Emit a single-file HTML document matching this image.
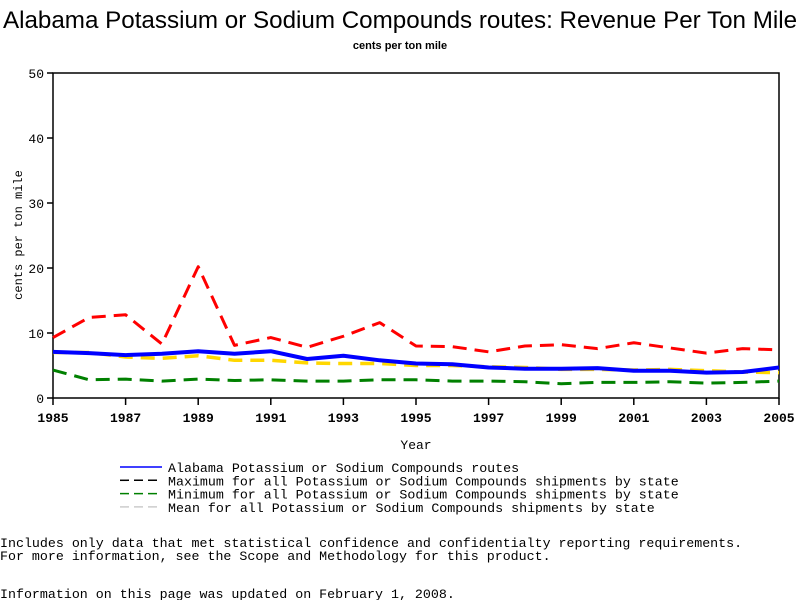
<!DOCTYPE html>
<html><head><meta charset="utf-8"><style>
body{margin:0;background:#fff;}
svg text{font-family:"Liberation Mono",monospace;}
</style></head><body>
<svg id="c" width="800" height="600" viewBox="0 0 800 600">
<text x="400" y="28" text-anchor="middle" font-size="24.2" style="font-family:'Liberation Sans',sans-serif">Alabama Potassium or Sodium Compounds routes: Revenue Per Ton Mile</text>
<text x="400" y="49" text-anchor="middle" font-size="11" font-weight="bold" style="font-family:'Liberation Sans',sans-serif">cents per ton mile</text>
<g id="axes"></g>
<g id="series"></g>
<text x="416" y="449" text-anchor="middle" font-size="13">Year</text>
<text transform="translate(22,235) rotate(-90)" text-anchor="middle" font-size="12">cents per ton mile</text>
<g id="legend" font-size="13.3"></g>
<text x="0" y="547" font-size="13.3">Includes only data that met statistical confidence and confidentialty reporting requirements.</text>
<text x="0" y="560" font-size="13.3">For more information, see the Scope and Methodology for this product.</text>
<text x="0" y="598" font-size="13.3">Information on this page was updated on February 1, 2008.</text>
</svg>
<script>
const years=[1985,1986,1987,1988,1989,1990,1991,1992,1993,1994,1995,1996,1997,1998,1999,2000,2001,2002,2003,2004,2005];
const alabama=[7.1,6.9,6.6,6.8,7.2,6.8,7.2,6.0,6.5,5.8,5.3,5.2,4.7,4.5,4.5,4.6,4.2,4.2,3.9,4.0,4.7];
const maxVals=[9.3,12.4,12.8,8.3,20.2,8.1,9.3,7.8,9.5,11.6,8.0,7.9,7.1,8.0,8.2,7.6,8.5,7.7,6.9,7.6,7.4];
const minVals=[4.3,2.8,2.9,2.6,2.9,2.7,2.8,2.6,2.6,2.8,2.8,2.6,2.6,2.5,2.2,2.4,2.4,2.5,2.3,2.4,2.6];
const meanVals=[7.0,7.0,6.3,6.1,6.5,5.8,5.8,5.4,5.3,5.3,5.0,5.0,4.8,4.7,4.4,4.4,4.3,4.4,4.2,4.0,3.9];
const yTicks=[0,10,20,30,40,50];
const xTicks=[1985,1987,1989,1991,1993,1995,1997,1999,2001,2003,2005];
const NS="http://www.w3.org/2000/svg";
const X0=53,X1=779,Y0=398,Y1=73;
const xs=v=>X0+(v-1985)/(2005-1985)*(X1-X0);
const ys=v=>Y0-v/50*(Y0-Y1);
function mk(t,a,p){const e=document.createElementNS(NS,t);for(const k in a)e.setAttribute(k,a[k]);p.appendChild(e);return e;}
const ax=document.getElementById('axes');
const frame=mk('rect',{x:X0,y:Y1,width:X1-X0,height:Y0-Y1,fill:'none',stroke:'#000','stroke-width':1.5},ax);


yTicks.forEach(v=>{
 const l=mk('line',{x1:X0-6,x2:X0,y1:ys(v),y2:ys(v),stroke:'#000','stroke-width':1.5},ax);
 
 
 const t=mk('text',{x:X0-9,y:ys(v)+5,'text-anchor':'end','font-size':13},ax);t.textContent=v;
 
 
});
xTicks.forEach(v=>{
 const l=mk('line',{x1:xs(v),x2:xs(v),y1:Y0,y2:Y0+7,stroke:'#000','stroke-width':1.5},ax);
 
 
 const t=mk('text',{x:xs(v),y:Y0+24,'text-anchor':'middle','font-size':13,'font-weight':'bold'},ax);t.textContent=v;
 
 
});
const sg=document.getElementById('series');
const defs=[[maxVals,'#ff0000','14,8',3,'max-line'],[minVals,'#008000','14,8',3,'min-line'],[meanVals,'#ffd700','14,8',3.5,'mean-line'],[alabama,'#0000ff','',4,'alabama-line']];
defs.forEach(d=>{
 const pts=d[0].map((v,i)=>xs(years[i])+','+ys(v)).join(' ');
 const p=mk('polyline',{points:pts,fill:'none',stroke:d[1],'stroke-width':d[3],'stroke-dasharray':d[2],'stroke-linejoin':'round'},sg);
 
 
});
const lg=document.getElementById('legend');
const leg=[['#0000ff','','Alabama Potassium or Sodium Compounds routes'],['#000','9,5','Maximum for all Potassium or Sodium Compounds shipments by state'],['#008000','9,5','Minimum for all Potassium or Sodium Compounds shipments by state'],['#ccc','9,5','Mean for all Potassium or Sodium Compounds shipments by state']];
leg.forEach((e,i)=>{
 const y=468+i*13.3;
 const l=mk('line',{x1:120,x2:162,y1:y-1,y2:y-1,stroke:e[0],'stroke-width':1.5,'stroke-dasharray':e[1]},lg);
 
 
 const t=mk('text',{x:168,y:y+4},lg);t.textContent=e[2];
 
 
});
</script>
</body></html>
